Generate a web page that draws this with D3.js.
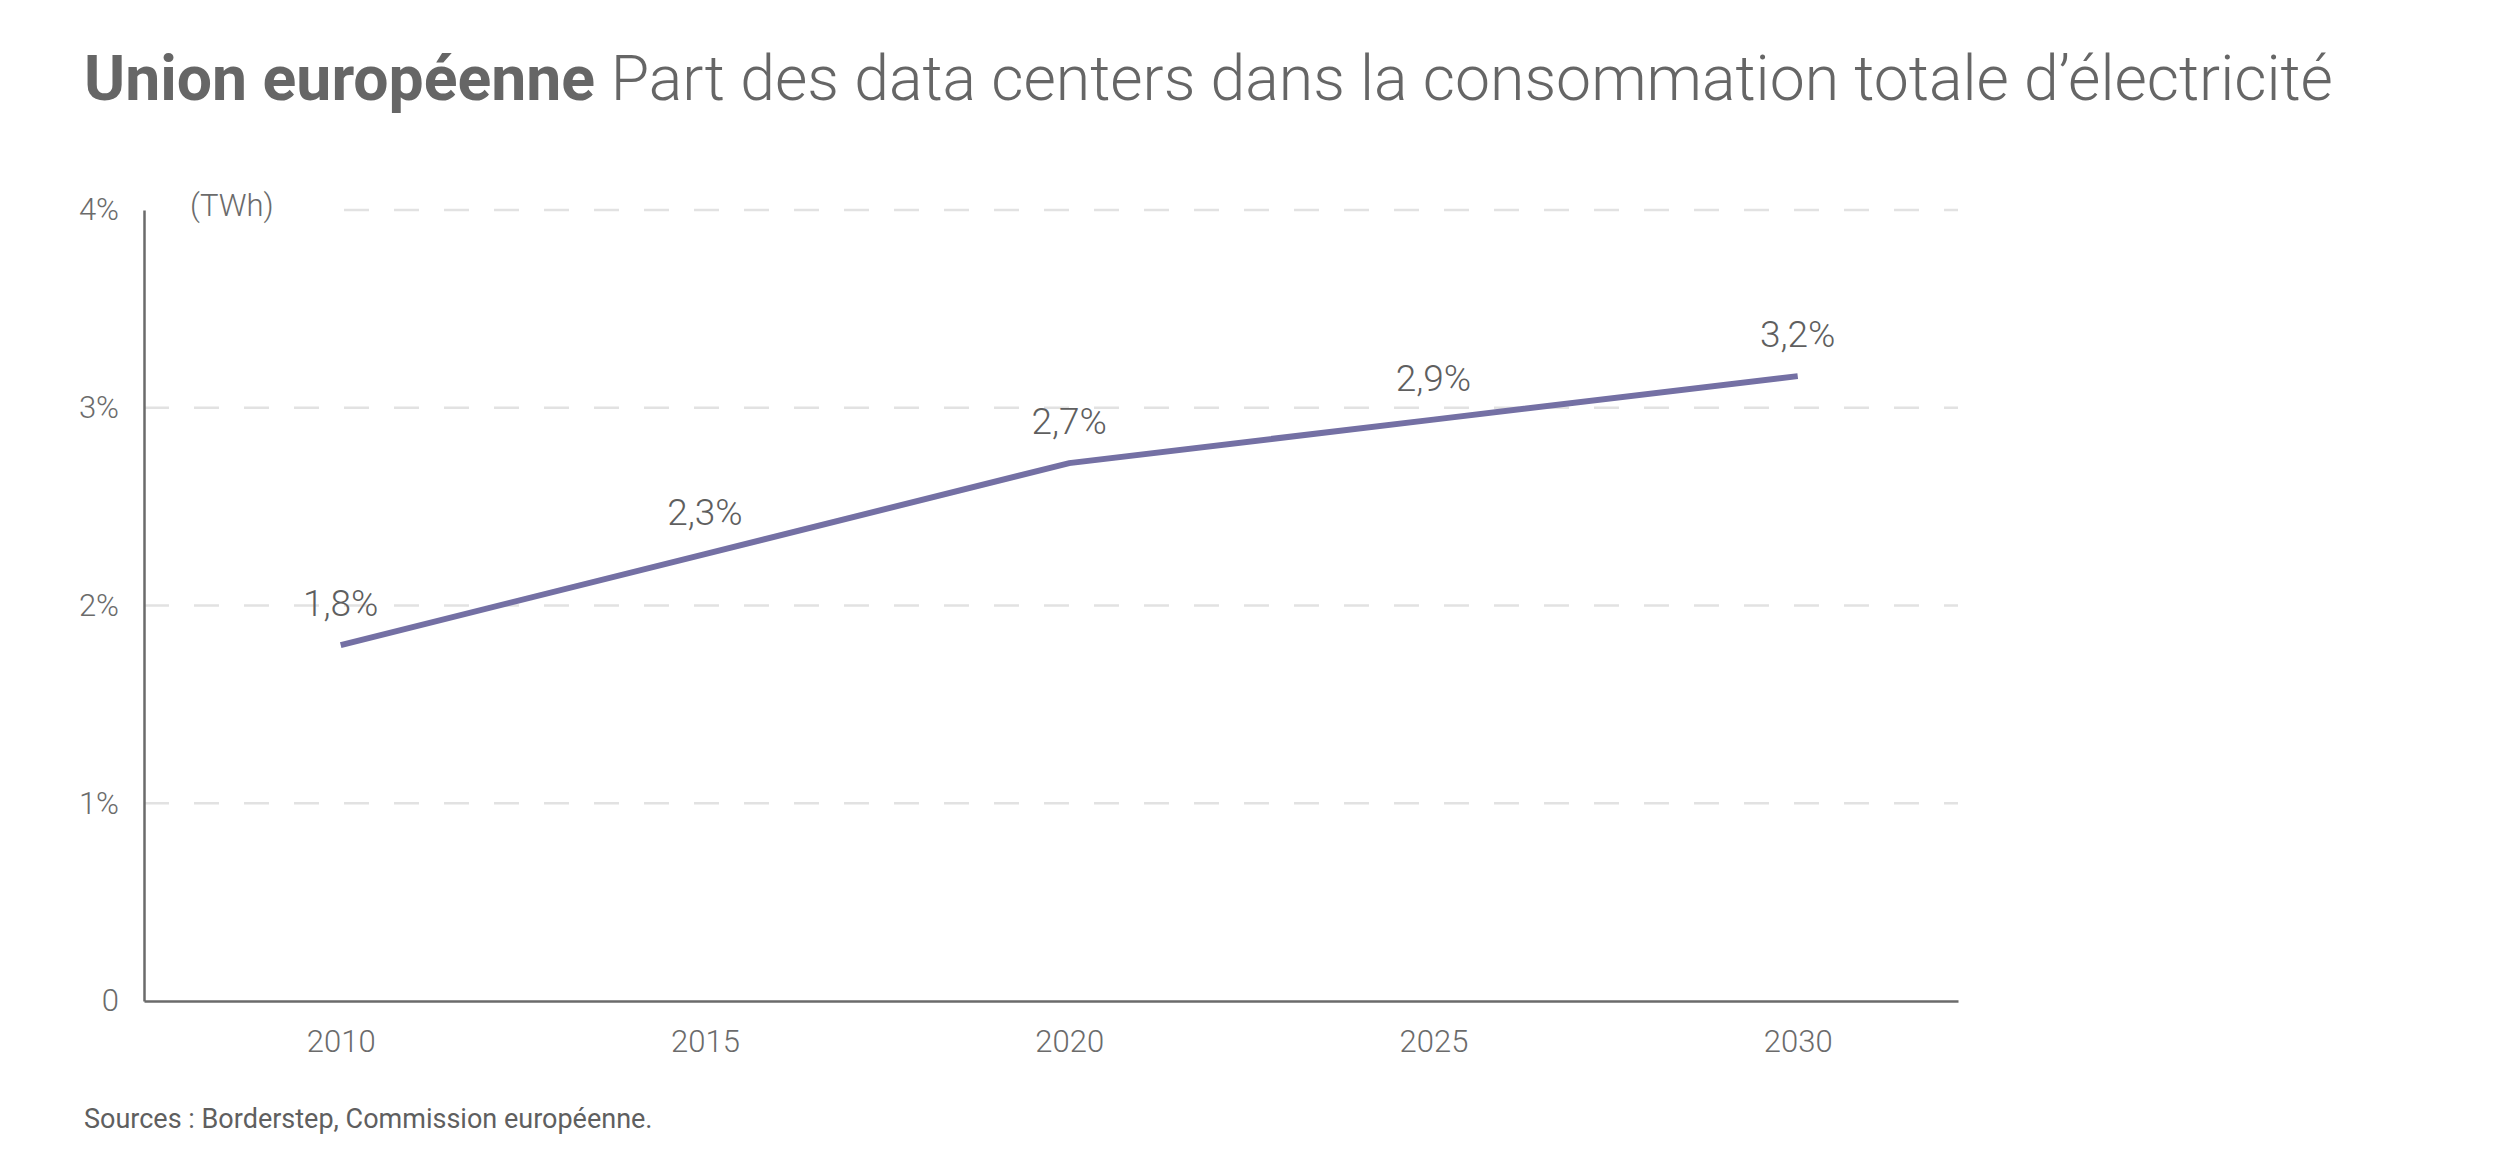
<!DOCTYPE html>
<html>
<head>
<meta charset="utf-8">
<script src="https://cdn.jsdelivr.net/npm/d3@7"></script>
<style>
  body { margin: 0; background: #fff; }
  svg text { font-family: Roboto, "Noto Sans", sans-serif; }
</style>
</head>
<body>
<svg id="chart"></svg>
<script>
const years = [2010, 2015, 2020, 2025, 2030];
const shares = [1.8, 2.26, 2.72, 2.94, 3.16];
const shareLabels = ["1,8%", "2,3%", "2,7%", "2,9%", "3,2%"];
const yTicks = [0, 1, 2, 3, 4];

const WIDTH = 2500;
const HEIGHT = 1167;
const LEFT = 144;
const RIGHT = 1958;
const TOP = 210;
const BOTTOM = 1001;

const svg = d3.select("#chart")
  .attr("width", WIDTH)
  .attr("height", HEIGHT);

const xScale = d3.scaleLinear()
  .domain([2007.3, 2032.2])
  .range([LEFT, RIGHT]);

const yScale = d3.scaleLinear()
  .domain([0, 4])
  .range([BOTTOM, TOP]);

// title
const title = svg.append("text")
  .attr("x", 84)
  .attr("y", 100)
  .attr("font-size", 62.5)
  .attr("fill", "#666");
title.append("tspan").attr("font-weight", 700).text("Union européenne ");
title.append("tspan").attr("font-weight", 300).text("Part des data centers dans la consommation totale d’électricité");

// dashed gridlines
svg.append("g")
  .selectAll("line")
  .data(yTicks.filter(d => d > 0))
  .enter()
  .append("line")
  .attr("x1", d => d === 4 ? LEFT + 200 : LEFT)
  .attr("x2", RIGHT)
  .attr("y1", d => yScale(d))
  .attr("y2", d => yScale(d))
  .attr("stroke", "#e2e2e2")
  .attr("stroke-width", 2.5)
  .attr("stroke-dasharray", "25,25");

// axes
const yAxis = svg.append("g")
  .attr("transform", `translate(${LEFT},0)`)
  .call(d3.axisLeft(yScale)
    .tickValues(yTicks)
    .tickSize(0)
    .tickPadding(25)
    .tickFormat(d => d === 0 ? "0" : d + "%"));

const xAxis = svg.append("g")
  .attr("transform", `translate(0,${BOTTOM})`)
  .call(d3.axisBottom(xScale)
    .tickValues(years)
    .tickSize(0)
    .tickPadding(29)
    .tickFormat(d3.format("d")));

[yAxis, xAxis].forEach(ax => {
  ax.select(".domain").attr("stroke", "#6b6b6b").attr("stroke-width", 2.5);
  ax.selectAll("text")
    .attr("font-family", "Roboto")
    .attr("font-weight", 300)
    .attr("font-size", 31)
    .attr("fill", "#6b6b6b");
});

// unit
svg.append("text")
  .attr("x", 190)
  .attr("y", 216)
  .attr("font-size", 31)
  .attr("font-weight", 300)
  .attr("fill", "#6b6b6b")
  .text("(TWh)");

// line
const line = d3.line()
  .x((d, i) => xScale(years[i]))
  .y(d => yScale(d));

svg.append("path")
  .datum(shares)
  .attr("d", line)
  .attr("fill", "none")
  .attr("stroke", "#7470a4")
  .attr("stroke-width", 6);

// value labels
svg.append("g")
  .selectAll("text")
  .data(shares)
  .enter()
  .append("text")
  .attr("x", (d, i) => xScale(years[i]))
  .attr("y", d => yScale(d) - 29)
  .attr("text-anchor", "middle")
  .attr("font-size", 37)
  .attr("font-weight", 300)
  .attr("fill", "#5f5f5f")
  .text((d, i) => shareLabels[i]);

// sources
svg.append("text")
  .attr("x", 84)
  .attr("y", 1128)
  .attr("font-size", 27)
  .attr("font-weight", 400)
  .attr("fill", "#5f5f5f")
  .text("Sources : Borderstep, Commission européenne.");
</script>
</body>
</html>
